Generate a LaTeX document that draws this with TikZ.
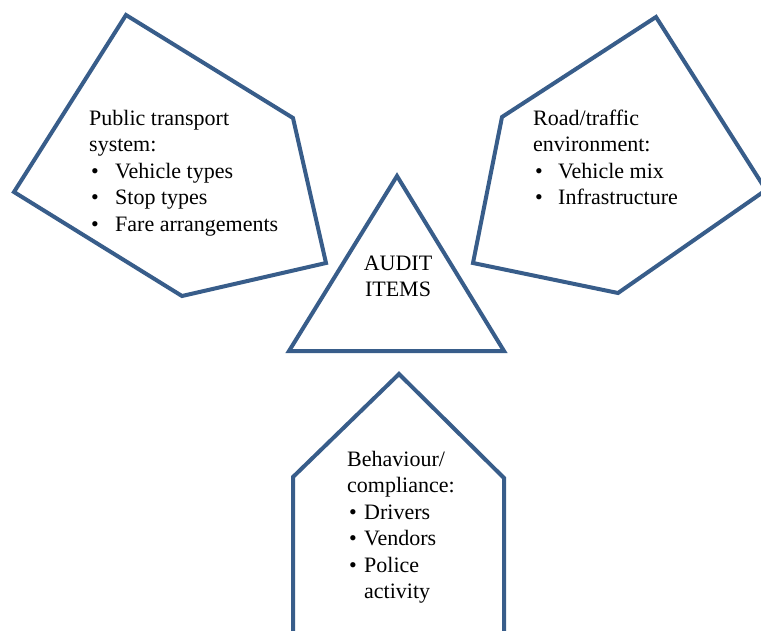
\documentclass[tikz,border=0pt]{standalone}
\usepackage{fontspec}
\setmainfont{Liberation Serif}
\definecolor{edgeblue}{RGB}{56,93,138}
\newcommand\bul[2]{\makebox[#1][l]{\hspace{2pt}•}}
\begin{document}
\begin{tikzpicture}[x=1pt,y=-1pt,
  shape line/.style={draw=edgeblue,line width=4pt,line join=miter},
  label text/.style={inner sep=0pt,font=\fontsize{22}{26.5}\selectfont,text=black}]
\useasboundingbox (0,0) rectangle (761,630);
\clip (0,0) rectangle (761,630);
% shapes
\draw[shape line] (126,15) -- (293,118) -- (326,263) -- (182,296) -- (14,192) -- cycle;
\draw[shape line] (656,17) -- (766,190) -- (618,293) -- (473,263) -- (502,117) -- cycle;
\draw[shape line] (397,176) -- (504,351) -- (289,351) -- cycle;
\draw[shape line] (399,374) -- (504,478) -- (504,650) -- (293,650) -- (293,477) -- cycle;
% texts
\node[label text,anchor=base west] (pts) at (89,125)
  {\begin{tabular}[t]{@{}l@{}}Public transport\\ system:\\
   \bul{26pt}{}Vehicle types\\ \bul{26pt}{}Stop types\\ \bul{26pt}{}Fare arrangements\end{tabular}};
\node[label text,anchor=base west] (rte) at (533,125)
  {\begin{tabular}[t]{@{}l@{}}Road/traffic\\ environment:\\
   \bul{25pt}{}Vehicle mix\\ \bul{25pt}{}Infrastructure\end{tabular}};
\node[label text,anchor=base] (audit) at (398,270)
  {\begin{tabular}[t]{@{}c@{}}AUDIT\\ ITEMS\end{tabular}};
\node[label text,anchor=base west] (beh) at (347,466)
  {\begin{tabular}[t]{@{}l@{}}Behaviour/\\ compliance:\\
   \bul{17pt}{}Drivers\\ \bul{17pt}{}Vendors\\ \bul{17pt}{}Police\\ \hspace{17pt}activity\end{tabular}};
\end{tikzpicture}
\end{document}
